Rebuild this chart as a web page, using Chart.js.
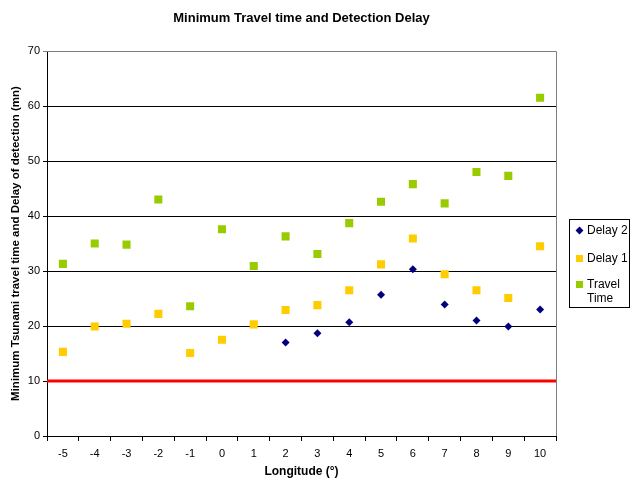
<!DOCTYPE html>
<html>
<head>
<meta charset="utf-8">
<script src="https://cdn.jsdelivr.net/npm/chart.js@4"></script>
<style>
  html, body { margin: 0; padding: 0; background: #fff; }
  #wrap { position: relative; width: 632px; height: 485px; }
  #legend {
    position: absolute; left: 569px; top: 219px; width: 61px; height: 89px;
    border: 1px solid #000; box-sizing: border-box;
    font: 12px Arial, 'Liberation Sans', sans-serif; color: #000;
  }
  .item { position: absolute; left: 6px; }
  .item span.mk { position: absolute; left: 0; top: 4px; width: 7px; height: 7px; }
  .item span.tx { position: absolute; left: 11px; top: 0; line-height: 14px; white-space: nowrap; }
</style>
</head>
<body>
<div id="wrap">
  <canvas id="grafico" width="632" height="485"></canvas>
  <div id="legend">
    <div class="item" style="top:3px"><span class="mk" style="background:#000080;transform:rotate(45deg) scale(0.8)"></span><span class="tx">Delay 2</span></div>
    <div class="item" style="top:31px"><span class="mk" style="background:#FFCC00"></span><span class="tx">Delay 1</span></div>
    <div class="item" style="top:57px"><span class="mk" style="background:#99CC00"></span><span class="tx">Travel<br>Time</span></div>
  </div>
</div>
<script>
/* Datos */
var longitudes = ['-5', '-4', '-3', '-2', '-1', '0', '1', '2', '3', '4', '5', '6', '7', '8', '9', '10'];
var delay2 = [null, null, null, null, null, null, null, 17.0, 18.7, 20.7, 25.7, 30.3, 23.9, 21.0, 19.9, 23.0];
var delay1 = [15.3, 19.9, 20.4, 22.2, 15.1, 17.5, 20.3, 22.9, 23.8, 26.5, 31.2, 35.9, 29.4, 26.5, 25.1, 34.5];
var travelTime = [31.3, 35.0, 34.8, 43.0, 23.6, 37.6, 30.9, 36.3, 33.1, 38.7, 42.6, 45.8, 42.3, 48.0, 47.3, 61.5];
var umbral = 10; /* línea roja horizontal */
var titulo = 'Minimum Travel time and Detection Delay';

Chart.defaults.font.family = "Arial, 'Liberation Sans', sans-serif";
Chart.defaults.color = '#000';

/* Plugin: línea roja del umbral, marco gris del área y título centrado sobre el área */
var extras = {
  id: 'extras',
  beforeDatasetsDraw: function (chart) {
    var ctx = chart.ctx, a = chart.chartArea;
    var y = chart.scales.y.getPixelForValue(umbral);
    ctx.save();
    ctx.strokeStyle = '#808080';
    ctx.lineWidth = 1;
    ctx.beginPath();
    ctx.moveTo(a.left, a.top + 0.5);
    ctx.lineTo(a.right + 0.5, a.top + 0.5);
    ctx.lineTo(a.right + 0.5, a.bottom);
    ctx.stroke();
    ctx.strokeStyle = '#FF0000';
    ctx.lineWidth = 3;
    ctx.beginPath();
    ctx.moveTo(a.left, y);
    ctx.lineTo(a.right, y);
    ctx.stroke();
    ctx.restore();
  },
  afterDraw: function (chart) {
    var ctx = chart.ctx, a = chart.chartArea;
    ctx.save();
    ctx.font = "bold 13px Arial, 'Liberation Sans', sans-serif";
    ctx.fillStyle = '#000';
    ctx.textAlign = 'center';
    ctx.textBaseline = 'middle';
    ctx.fillText(titulo, (a.left + a.right) / 2, 18);
    ctx.restore();
  }
};

new Chart(document.getElementById('grafico'), {
  type: 'line',
  data: {
    labels: longitudes,
    datasets: [
      { label: 'Delay 2', data: delay2, showLine: false, pointStyle: 'rectRot', pointRadius: 4,
        backgroundColor: '#000080', borderColor: '#000080', borderWidth: 0 },
      { label: 'Delay 1', data: delay1, showLine: false, pointStyle: 'rect', pointRadius: 5.7,
        backgroundColor: '#FFCC00', borderColor: '#FFCC00', borderWidth: 0 },
      { label: 'Travel Time', data: travelTime, showLine: false, pointStyle: 'rect', pointRadius: 5.7,
        backgroundColor: '#99CC00', borderColor: '#99CC00', borderWidth: 0 }
    ]
  },
  options: {
    responsive: false,
    animation: false,
    layout: { padding: { left: 9, right: 76, top: 51, bottom: 6 } },
    plugins: {
      legend: { display: false },
      tooltip: { enabled: false },
      title: { display: false }
    },
    scales: {
      x: {
        offset: true,
        grid: { offset: true, drawOnChartArea: false, drawTicks: true, tickLength: 5, color: '#000' },
        border: { color: '#000' },
        ticks: { font: { size: 11 }, padding: 6, maxRotation: 0 },
        title: { display: true, text: 'Longitude (°)', font: { size: 12, weight: 'bold' }, padding: 0 },
        afterFit: function (s) { s.height = 43; }
      },
      y: {
        min: 0, max: 70,
        ticks: { stepSize: 10, font: { size: 11 }, padding: 3 },
        grid: {
          color: function (c) { return c.tick && c.tick.value === 70 ? '#808080' : '#000'; },
          tickLength: 4
        },
        border: { color: '#000' },
        title: { display: true, text: 'Minimum Tsunami travel time and Delay of detection (mn)', font: { size: 11.5, weight: 'bold' }, padding: 0 },
        afterFit: function (s) { s.width = 38; }
      }
    }
  },
  plugins: [extras]
});
</script>
</body>
</html>
